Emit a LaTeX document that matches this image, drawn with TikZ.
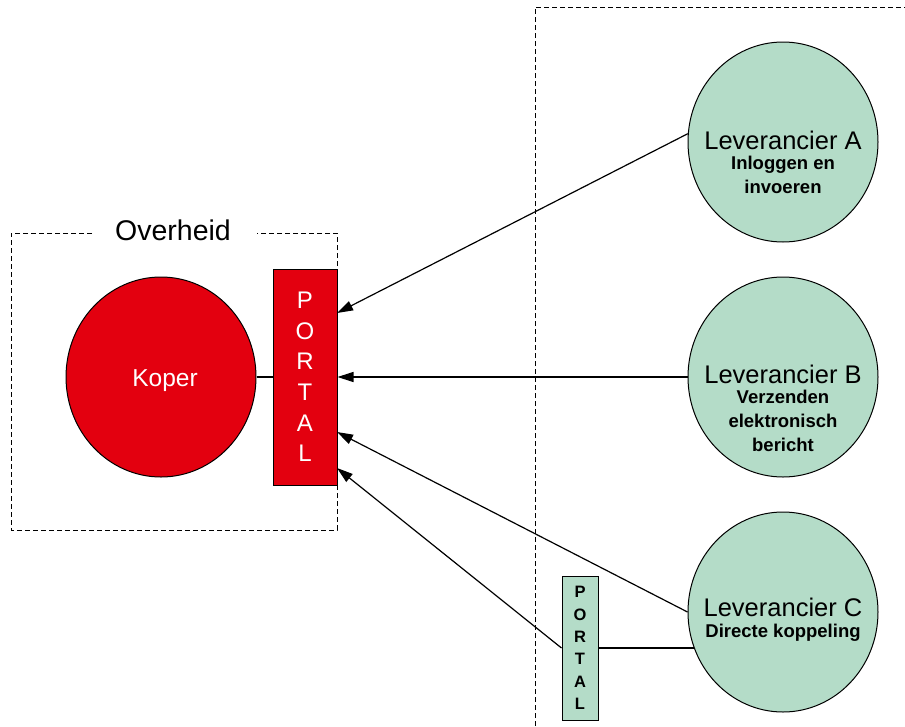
\documentclass[tikz,border=0pt]{standalone}
\usepackage{fontspec}
\setmainfont{Liberation Sans}
\usetikzlibrary{shapes.geometric,arrows.meta}
\definecolor{kred}{RGB}{227,0,15}
\definecolor{lgreen}{RGB}{180,220,200}
\tikzset{
  party/.style={ellipse,draw=black,line width=1pt,inner sep=0pt,minimum width=190pt,minimum height=200pt},
  portalbox/.style={rectangle,draw=black,line width=1pt,inner sep=0pt,align=center},
  frame/.style={draw=black,line width=0.9pt,dash pattern=on 5pt off 3pt},
  conn/.style={draw=black,line width=1.2pt},
  arr/.style={conn,-{Triangle[length=16pt,width=10pt]}},
  title/.style={font=\fontsize{25.5}{29}\selectfont,inner sep=0pt},
  sub/.style={font=\fontsize{18.5}{24}\selectfont\bfseries,align=center,inner sep=0pt}
}
\begin{document}
\begin{tikzpicture}[x=1pt,y=-1pt]
\useasboundingbox (0,0) rectangle (905,726);
% frames
\draw[frame] (92,233) -- (11,233) -- (11,530) -- (337,530) -- (337,233) -- (257,233);
\node[font=\fontsize{28.5}{32}\selectfont,inner sep=0pt] (ov) at (173,230) {Overheid};
\draw[frame] (535,726) -- (535,7) -- (905,7);
% government side
\node[party,fill=kred] (K) at (161,377) {};
\node[font=\fontsize{24.5}{28}\selectfont,text=white,inner sep=0pt] (Kt) at (165,381) {Koper};
\node[portalbox,fill=kred,minimum width=64pt,minimum height=216pt,text=white,font=\fontsize{24}{30.6}\selectfont] (P) at (305,377) {P\\O\\R\\T\\A\\L};
\draw[conn] (K.east) -- (P.west);
% suppliers
\node[party,fill=lgreen] (A) at (783,142) {};
\node[title] (At) at (783,140) {Leverancier A};
\node[sub] (As) at (783,175) {Inloggen en\\invoeren};
\node[party,fill=lgreen] (B) at (783,377) {};
\node[title] (Bt) at (783,374) {Leverancier B};
\node[sub] (Bs) at (783,421) {Verzenden\\elektronisch\\bericht};
\node[party,fill=lgreen] (C) at (783,612) {};
\node[title] (Ct) at (783,607) {Leverancier C};
\node[sub] (Cs) at (783,633) {Directe koppeling};
\node[portalbox,fill=lgreen,minimum width=36pt,minimum height=144pt,font=\fontsize{16.5}{22.4}\selectfont\bfseries] (SP) at (580,648) {P\\O\\R\\T\\A\\L};
% connectors
\coordinate (pa) at (337,313);
\coordinate (pc) at (337,432);
\coordinate (pd) at (337,468);
\draw[arr] (A.175) -- (pa);
\draw[arr] (B.west) -- (P.east);
\draw[arr] (C.west) -- (pc);
\draw[arr] (SP.west) -- (pd);
\draw[conn] (SP.east) -- (SP.east -| C.202);
\end{tikzpicture}
\end{document}
